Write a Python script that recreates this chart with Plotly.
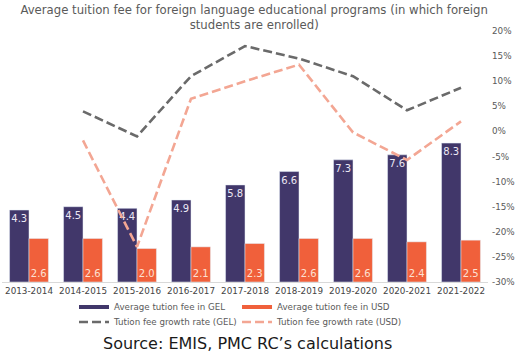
import plotly.graph_objects as go

years = ["2013-2014", "2014-2015", "2015-2016", "2016-2017", "2017-2018",
         "2018-2019", "2019-2020", "2020-2021", "2021-2022"]
fee_gel = [4.3, 4.5, 4.4, 4.9, 5.8, 6.6, 7.3, 7.6, 8.3]
fee_usd = [2.6, 2.6, 2.0, 2.1, 2.3, 2.6, 2.6, 2.4, 2.5]
growth_years = years[1:]
growth_gel = [4.0, -1.0, 11.0, 17.0, 14.5, 11.0, 4.2, 8.7]
growth_usd = [-1.8, -23.0, 6.5, 10.0, 13.3, -0.2, -5.7, 2.0]
right_ticks = [20, 15, 10, 5, 0, -5, -10, -15, -20, -25, -30]
right_tick_labels = ["20%", "15%", "10%", "5%", "0%", "-5%", "-10%", "-15%",
                     "-20%", "-25%", "-30%"]

C_GEL = "#41376a"
C_USD = "#f0603b"
C_LGEL = "#6a6a6a"
C_LUSD = "#f3a693"
GRAY = "#5a5a5a"
FONT = "DejaVu Sans"

fig = go.Figure()
fig.add_trace(go.Bar(x=years, y=fee_gel, marker_color=C_GEL, showlegend=False,
                     text=[f"{v:.1f}" for v in fee_gel], textposition="inside",
                     insidetextanchor="end", constraintext="none", textangle=0,
                     textfont=dict(color="#ece8f4", size=10, family=FONT),
                     hoverinfo="skip"))
fig.add_trace(go.Bar(x=years, y=fee_usd, marker_color=C_USD, showlegend=False,
                     text=[f"{v:.1f}" for v in fee_usd], textposition="inside",
                     insidetextanchor="start", constraintext="none", textangle=0,
                     textfont=dict(color="#fde0d2", size=10, family=FONT),
                     hoverinfo="skip"))
fig.add_trace(go.Scatter(x=growth_years, y=growth_gel, yaxis="y2", mode="lines",
                         line=dict(color=C_LGEL, width=2.6, dash="9px,4px"),
                         name="Tution fee growth rate (GEL)", legend="legend3"))
fig.add_trace(go.Scatter(x=growth_years, y=growth_usd, yaxis="y2", mode="lines",
                         line=dict(color=C_LUSD, width=2.6, dash="9px,4px"),
                         name="Tution fee growth rate (USD)", legend="legend4"))
# legend swatches for the bar series
fig.add_trace(go.Scatter(x=[None], y=[None], mode="lines",
                         line=dict(color=C_GEL, width=4),
                         name="Average tution fee in GEL", legend="legend"))
fig.add_trace(go.Scatter(x=[None], y=[None], mode="lines",
                         line=dict(color=C_USD, width=4),
                         name="Average tution fee in USD", legend="legend2"))


def leg(xpos, ypix):
    return dict(orientation="h", xref="container", x=xpos, xanchor="left",
                yref="container", y=1 - ypix / 356, yanchor="middle",
                font=dict(size=8.7, color=GRAY),
                bgcolor="rgba(0,0,0,0)", tracegroupgap=0)


fig.update_layout(
    width=523, height=356,
    margin=dict(l=2, r=35, t=31, b=74, autoexpand=False),
    paper_bgcolor="white", plot_bgcolor="white",
    font=dict(family=FONT, color=GRAY, size=9),
    barmode="group", bargap=0.28, bargroupgap=0,
    title=dict(text="Average tuition fee for foreign language educational programs (in which foreign<br>students are enrolled)",
               xref="container", x=0.486, xanchor="center",
               yref="container", y=0.96, yanchor="middle",
               font=dict(size=11.7, color=GRAY, family=FONT)),
    xaxis=dict(type="category", showgrid=False, showline=True, linecolor="#d9d9d9",
               linewidth=1, ticks="", tickfont=dict(size=8.8, color="#444444"),
               fixedrange=True, automargin=False),
    yaxis=dict(range=[0, 15], visible=False, showgrid=False, automargin=False),
    yaxis2=dict(range=[-30, 20], overlaying="y", side="right", showgrid=False,
                zeroline=False, tickvals=right_ticks, ticktext=right_tick_labels,
                tickfont=dict(size=8.8, color=GRAY), ticks="",
                ticklabelstandoff=3, showline=False, automargin=False),
    legend=leg(0.1415, 307),
    legend2=leg(0.4532, 307),
    legend3=leg(0.1415, 322),
    legend4=leg(0.4532, 322),
    annotations=[dict(text="Source: EMIS, PMC RC’s calculations", xref="paper",
                      yref="paper", x=0.506, y=(282 - 343) / 251,
                      xanchor="center", yanchor="middle", showarrow=False,
                      font=dict(size=16, color="#1a1a1a", family=FONT))],
)

fig.write_html("out.html", config={"displayModeBar": False},
               post_script="document.body.style.margin='0';document.body.style.overflow='hidden';")
